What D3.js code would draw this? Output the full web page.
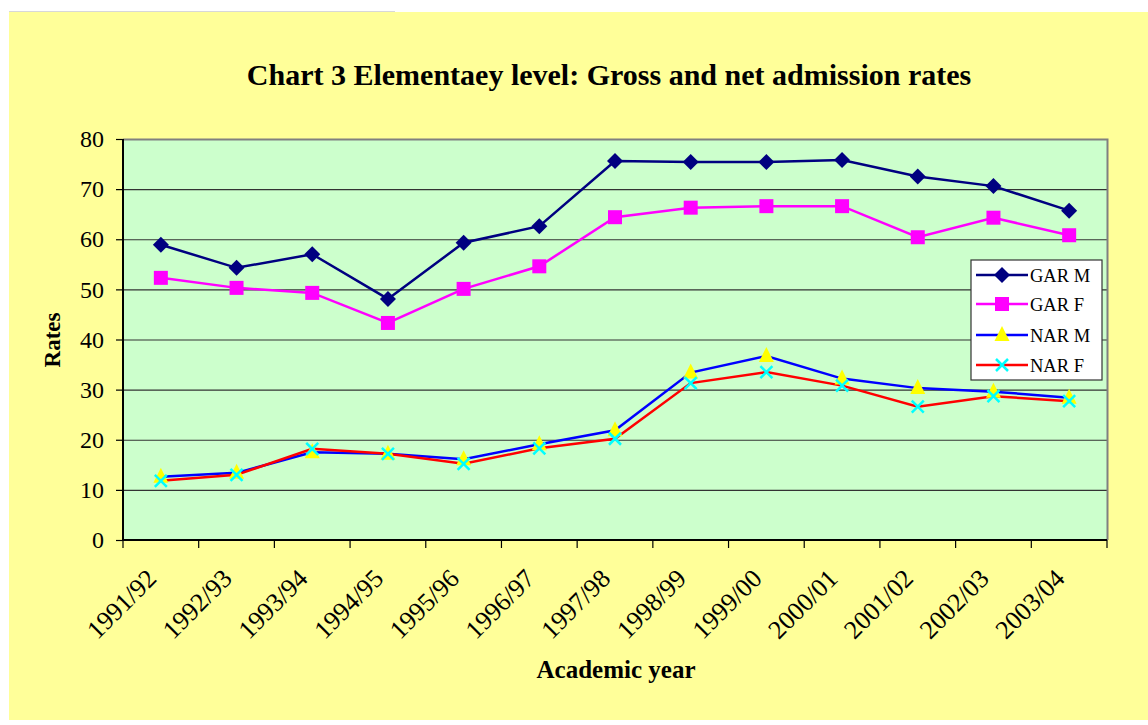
<!DOCTYPE html>
<html><head><meta charset="utf-8">
<script src="https://cdn.jsdelivr.net/npm/d3@7"></script>
<style>body{margin:0;background:#fff;}svg{display:block;} svg text{font-family:"Liberation Serif","Times New Roman",Times,"DejaVu Serif",serif;}</style>
</head><body>
<script>
const categories = ["1991/92","1992/93","1993/94","1994/95","1995/96","1996/97","1997/98","1998/99","1999/00","2000/01","2001/02","2002/03","2003/04"];
const garM = [58.9,54.3,57.0,48.1,59.3,62.6,75.6,75.4,75.4,75.8,72.5,70.6,65.7];
const garF = [52.3,50.3,49.3,43.3,50.1,54.6,64.4,66.3,66.6,66.6,60.4,64.3,60.8];
const narM = [12.6,13.4,17.5,17.2,16.1,19.1,21.9,33.4,36.7,32.2,30.3,29.6,28.4];
const narF = [11.8,13.0,18.2,17.2,15.2,18.3,20.2,31.3,33.5,30.8,26.6,28.7,27.7];
const yTicks = [0,10,20,30,40,50,60,70,80];
const seriesNames = ["GAR M","GAR F","NAR M","NAR F"];

const W = 1148, H = 725;
const svg = d3.select("body").append("svg").attr("width", W).attr("height", H);

// background
svg.append("rect").attr("x", 9).attr("y", 12).attr("width", W - 9).attr("height", H - 17).attr("fill", "#FFFF99");
svg.append("line").attr("x1", 9).attr("x2", 395).attr("y1", 11.5).attr("y2", 11.5).attr("stroke", "#d8d8d8").attr("stroke-width", 1);

const m = {l: 123, t: 139, r: 1107, b: 540};
const x = d3.scaleBand().domain(categories).range([m.l, m.r]).padding(0);
const y = d3.scaleLinear().domain([0, 80]).range([m.b, m.t]);
const cx = d => x(d) + x.bandwidth() / 2;

svg.append("rect").attr("x", m.l).attr("y", m.t).attr("width", m.r - m.l).attr("height", m.b - m.t).attr("fill", "#CCFFCC");

// gridlines
svg.append("g").selectAll("line").data(yTicks.filter(v => v > 0 && v < 80)).join("line")
  .attr("x1", m.l).attr("x2", m.r).attr("y1", d => y(d) + 0.5).attr("y2", d => y(d) + 0.5)
  .attr("stroke", "#333").attr("stroke-width", 1.2);
// border top and right
svg.append("path").attr("d", `M${m.l},${m.t + 0.5}H${m.r + 0.5}V${m.b}`).attr("fill", "none").attr("stroke", "#808080").attr("stroke-width", 2);

// y axis
const yAxis = d3.axisLeft(y).tickValues(yTicks).tickSize(7).tickPadding(12);
const gy = svg.append("g").attr("transform", `translate(${m.l},0)`).call(yAxis);
gy.attr("font-family", null);
gy.select(".domain").attr("stroke", "#000").attr("stroke-width", 2).attr("d", `M-0,${m.t}V${m.b}`);
gy.selectAll(".tick line").attr("stroke", "#000").attr("stroke-width", 1.2);
gy.selectAll("text").attr("font-size", 24).attr("fill", "#000");

// x axis
const xAxis = d3.axisBottom(x).tickSize(0).tickFormat("");
const gx = svg.append("g").attr("transform", `translate(0,${m.b})`).call(xAxis);
gx.select(".domain").attr("stroke", "#000").attr("stroke-width", 2).attr("d", `M${m.l},0H${m.r}`);
const bounds = categories.map(c => x(c)).concat([m.r]);
svg.append("g").selectAll("line").data(bounds).join("line")
  .attr("x1", d => d).attr("x2", d => d).attr("y1", m.b).attr("y2", m.b + 8)
  .attr("stroke", "#000").attr("stroke-width", 1.2);
svg.append("g").selectAll("text").data(categories).join("text")
  .attr("transform", d => `translate(${cx(d) - 3},${m.b + 40}) rotate(-45)`)
  .attr("text-anchor", "end").attr("font-size", 26).attr("fill", "#000")
  .text(d => d);

// titles
svg.append("text").attr("x", 609).attr("y", 85).attr("text-anchor", "middle")
  .attr("font-weight", "bold").attr("font-size", 30).text("Chart 3 Elementaey level: Gross and net admission rates");
svg.append("text").attr("x", 616).attr("y", 678).attr("text-anchor", "middle")
  .attr("font-weight", "bold").attr("font-size", 25).text("Academic year");
svg.append("text").attr("transform", "translate(60,340) rotate(-90)").attr("text-anchor", "middle")
  .attr("font-weight", "bold").attr("font-size", 23).text("Rates");

const series = [
  {name: seriesNames[0], vals: garM, line: "#000080", marker: "diamond", fill: "#000080"},
  {name: seriesNames[1], vals: garF, line: "#FF00FF", marker: "square", fill: "#FF00FF"},
  {name: seriesNames[2], vals: narM, line: "#0000FF", marker: "triangle", fill: "#FFFF00"},
  {name: seriesNames[3], vals: narF, line: "#FF0000", marker: "x", fill: "#00FFFF"}
];

function drawMarker(g, type, fill, px, py) {
  if (type === "diamond") {
    g.append("path").attr("d", `M${px},${py - 8}L${px + 8},${py}L${px},${py + 8}L${px - 8},${py}Z`).attr("fill", fill);
  } else if (type === "square") {
    g.append("rect").attr("x", px - 7).attr("y", py - 7).attr("width", 14).attr("height", 14).attr("fill", fill);
  } else if (type === "triangle") {
    g.append("path").attr("d", `M${px},${py - 9}L${px + 7.5},${py + 6}L${px - 7.5},${py + 6}Z`).attr("fill", fill);
  } else {
    g.append("path").attr("d", `M${px - 6},${py - 6}L${px + 6},${py + 6}M${px + 6},${py - 6}L${px - 6},${py + 6}`)
      .attr("stroke", fill).attr("stroke-width", 2.5).attr("fill", "none");
  }
}

const lineGen = d3.line().x((d, i) => cx(categories[i])).y(d => y(d));
series.forEach(s => {
  svg.append("path").attr("d", lineGen(s.vals)).attr("fill", "none").attr("stroke", s.line).attr("stroke-width", 2.5);
});
series.forEach(s => {
  const g = svg.append("g");
  s.vals.forEach((v, i) => drawMarker(g, s.marker, s.fill, cx(categories[i]), y(v)));
});

// legend
const lg = svg.append("g");
lg.append("rect").attr("x", 971).attr("y", 260).attr("width", 131).attr("height", 120).attr("fill", "#fff").attr("stroke", "#333").attr("stroke-width", 1.2);
const ly = [275, 304, 335, 365];
series.forEach((s, i) => {
  lg.append("line").attr("x1", 976).attr("x2", 1028).attr("y1", ly[i]).attr("y2", ly[i]).attr("stroke", s.line).attr("stroke-width", 2.5);
  drawMarker(lg, s.marker, s.fill, 1002, ly[i]);
  lg.append("text").attr("x", 1030).attr("y", ly[i] + 7).attr("font-size", 18.5).text(s.name);
});
</script>
</body></html>
